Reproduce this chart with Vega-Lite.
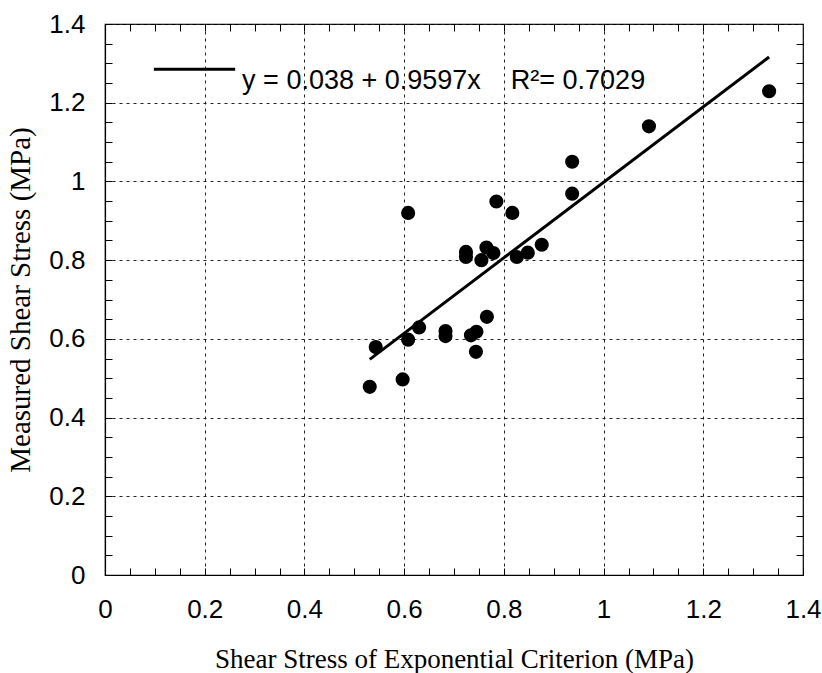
{
  "$schema": "https://vega.github.io/schema/vega-lite/v6.json",
  "width": 698,
  "height": 551,
  "autosize": "none",
  "padding": {"left": 105, "top": 24, "right": 19, "bottom": 98},
  "background": "white",
  "config": {
    "view": {"stroke": "black", "strokeWidth": 1.2},
    "axis": {
      "domainColor": "black",
      "domainWidth": 1.2,
      "tickColor": "black",
      "tickWidth": 1,
      "tickSize": -7,
      "labelFont": "Liberation Sans",
      "labelFontSize": 26,
      "labelColor": "black",
      "titleFont": "Liberation Serif",
      "titleFontWeight": "normal",
      "titleColor": "black",
      "gridColor": "#222222",
      "gridDash": [3, 4],
      "gridWidth": 1
    }
  },
  "datasets": {
    "pts": [
      {"x": 0.531, "y": 0.478}, {"x": 0.543, "y": 0.579}, {"x": 0.597, "y": 0.497},
      {"x": 0.608, "y": 0.92}, {"x": 0.608, "y": 0.598}, {"x": 0.63, "y": 0.629},
      {"x": 0.683, "y": 0.62}, {"x": 0.683, "y": 0.607}, {"x": 0.724, "y": 0.821},
      {"x": 0.724, "y": 0.808}, {"x": 0.734, "y": 0.609}, {"x": 0.745, "y": 0.618},
      {"x": 0.744, "y": 0.567}, {"x": 0.755, "y": 0.8}, {"x": 0.765, "y": 0.832},
      {"x": 0.766, "y": 0.656}, {"x": 0.779, "y": 0.818}, {"x": 0.785, "y": 0.949},
      {"x": 0.817, "y": 0.92}, {"x": 0.826, "y": 0.808}, {"x": 0.848, "y": 0.819},
      {"x": 0.876, "y": 0.839}, {"x": 0.937, "y": 0.969}, {"x": 0.937, "y": 1.05},
      {"x": 1.091, "y": 1.14}, {"x": 1.332, "y": 1.229}
    ],
    "fit": [{"x": 0.531, "y": 0.548}, {"x": 1.332, "y": 1.316}],
    "legline": [{"x": 0.098, "y": 1.285}, {"x": 0.261, "y": 1.285}],
    "legtext": [{"x": 0.275, "y": 1.256, "t": "y = 0.038 + 0.9597x\u00a0\u00a0\u00a0\u00a0R²= 0.7029"}]
  },
  "layer": [
    {
      "data": {"name": "pts"},
      "mark": {"type": "circle", "size": 200, "color": "black", "opacity": 1},
      "encoding": {
        "x": {
          "field": "x", "type": "quantitative",
          "scale": {"domain": [0, 1.4], "nice": false, "zero": false},
          "axis": {
            "orient": "bottom",
            "title": "Shear Stress of Exponential Criterion (MPa)",
            "titleFontSize": 27,
            "titlePadding": 24,
            "labelPadding": 28,
            "values": [0, 0.05, 0.1, 0.15, 0.2, 0.25, 0.3, 0.35, 0.4, 0.45, 0.5, 0.55, 0.6, 0.65, 0.7, 0.75, 0.8, 0.85, 0.9, 0.95, 1, 1.05, 1.1, 1.15, 1.2, 1.25, 1.3, 1.35, 1.4],
            "labelExpr": "abs(datum.value*5 - round(datum.value*5)) < 0.001 ? format(datum.value, '.1~f') : ''",
            "labelFlush": false,
            "labelOverlap": false,
            "grid": true,
            "gridOpacity": {"condition": {"test": "abs(datum.value*5 - round(datum.value*5)) < 0.001", "value": 1}, "value": 0}
          }
        },
        "y": {
          "field": "y", "type": "quantitative",
          "scale": {"domain": [0, 1.4], "nice": false, "zero": false},
          "axis": {
            "orient": "left",
            "title": "Measured Shear Stress (MPa)",
            "titleFontSize": 29,
            "titlePadding": 13,
            "labelPadding": 27,
            "values": [0, 0.05, 0.1, 0.15, 0.2, 0.25, 0.3, 0.35, 0.4, 0.45, 0.5, 0.55, 0.6, 0.65, 0.7, 0.75, 0.8, 0.85, 0.9, 0.95, 1, 1.05, 1.1, 1.15, 1.2, 1.25, 1.3, 1.35, 1.4],
            "labelExpr": "abs(datum.value*5 - round(datum.value*5)) < 0.001 ? format(datum.value, '.1~f') : ''",
            "labelFlush": false,
            "labelOverlap": false,
            "grid": true,
            "gridOpacity": {"condition": {"test": "abs(datum.value*5 - round(datum.value*5)) < 0.001", "value": 1}, "value": 0}
          }
        }
      }
    },
    {
      "data": {"name": "fit"},
      "mark": {"type": "line", "color": "black", "strokeWidth": 3},
      "encoding": {
        "x": {
          "field": "x", "type": "quantitative",
          "scale": {"domain": [0, 1.4], "nice": false, "zero": false},
          "axis": {
            "orient": "top", "title": null, "labels": false, "grid": false, "domain": false,
            "values": [0.05, 0.1, 0.15, 0.2, 0.25, 0.3, 0.35, 0.4, 0.45, 0.5, 0.55, 0.6, 0.65, 0.7, 0.75, 0.8, 0.85, 0.9, 0.95, 1, 1.05, 1.1, 1.15, 1.2, 1.25, 1.3, 1.35]
          }
        },
        "y": {
          "field": "y", "type": "quantitative",
          "scale": {"domain": [0, 1.4], "nice": false, "zero": false},
          "axis": {
            "orient": "right", "title": null, "labels": false, "grid": false, "domain": false,
            "values": [0.05, 0.1, 0.15, 0.2, 0.25, 0.3, 0.35, 0.4, 0.45, 0.5, 0.55, 0.6, 0.65, 0.7, 0.75, 0.8, 0.85, 0.9, 0.95, 1, 1.05, 1.1, 1.15, 1.2, 1.25, 1.3, 1.35]
          }
        }
      }
    },
    {
      "data": {"name": "legline"},
      "mark": {"type": "line", "color": "black", "strokeWidth": 3},
      "encoding": {
        "x": {"field": "x", "type": "quantitative", "axis": null},
        "y": {"field": "y", "type": "quantitative", "axis": null}
      }
    },
    {
      "data": {"name": "legtext"},
      "mark": {"type": "text", "align": "left", "baseline": "middle", "font": "Liberation Sans", "fontSize": 27, "color": "black"},
      "encoding": {
        "x": {"field": "x", "type": "quantitative", "axis": null},
        "y": {"field": "y", "type": "quantitative", "axis": null},
        "text": {"field": "t"}
      }
    }
  ],
  "resolve": {"axis": {"x": "independent", "y": "independent"}}
}
